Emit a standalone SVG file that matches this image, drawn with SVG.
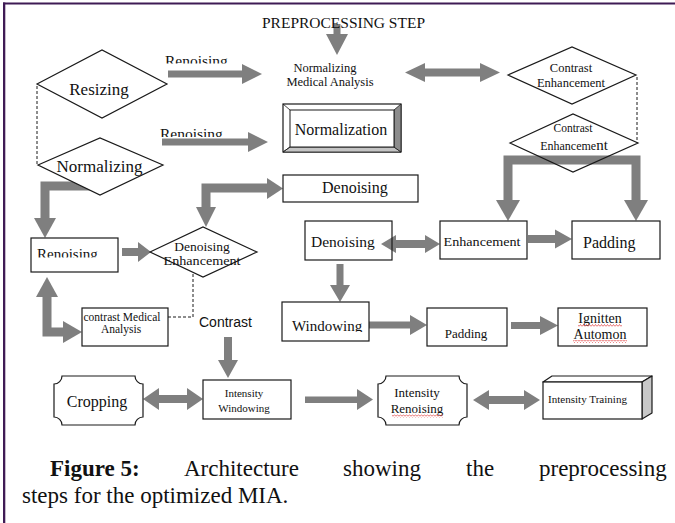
<svg xmlns="http://www.w3.org/2000/svg" width="675" height="523" viewBox="0 0 675 523" font-family="'Liberation Serif', 'Times New Roman', serif">
<style>
.n{fill:#fff;stroke:#1a1a1a;stroke-width:1.2}
.nf{fill:none;stroke:#1a1a1a;stroke-width:1.2}
.a{fill:#7f7f7f}
.al{fill:none;stroke:#7f7f7f;stroke-width:9;stroke-linejoin:miter}
.d{fill:none;stroke:#1a1a1a;stroke-width:1;stroke-dasharray:3 2}
text{font-family:"Liberation Serif","Times New Roman",serif;fill:#111}
.s{font-family:"Liberation Sans",Arial,sans-serif}
.c{font-size:23px}
.m{text-anchor:middle}
</style>
<defs>
<pattern id="wavy" patternUnits="userSpaceOnUse" width="3" height="3">
<path d="M0,2.5 L1.5,0.5 L3,2.5" fill="none" stroke="#e03a3a" stroke-width="0.7"/>
</pattern>
<clipPath id="cr1"><rect x="150" y="40" width="100" height="23.5"/></clipPath>
<clipPath id="cr2"><rect x="150" y="115" width="100" height="22"/></clipPath>
<clipPath id="cr3"><rect x="31" y="238" width="87" height="19.5"/></clipPath>
<clipPath id="cr4"><rect x="282" y="302" width="87" height="30"/></clipPath>
</defs>
<rect x="0" y="0" width="675" height="523" fill="#fff"/>
<rect x="3" y="2.5" width="672" height="2" fill="#3f1b55"/>
<rect x="3" y="2.5" width="2.3" height="520.5" fill="#3f1b55"/>

<g id="connectors">
<polygon class="a" points="333.5,24 340.5,24 340.5,34 348,34 337,55 326,34 333.5,34"/>
<polygon class="a" points="168,70.5 242,70.5 242,64 262,74 242,84 242,77.5 168,77.5"/>
<polygon class="a" points="162,138.5 248,138.5 248,132 268,142 248,152 248,145.5 162,145.5"/>
<polygon class="a" points="405,72.5 425,63 425,68.5 480,68.5 480,63 500,72.5 480,82 480,76.5 425,76.5 425,82"/>
<polyline class="al" points="508,202 508,160 636,160 636,202"/>
<polygon class="a" points="496,200 520,200 508,221"/>
<polygon class="a" points="624,200 648,200 636,221"/>
<polygon class="a" points="528,235 555,235 555,229.5 572,239 555,248.5 555,243 528,243"/>
<polygon class="a" points="381,244 396,235 396,240 425,240 425,235 440,244 425,253 425,248 396,248 396,253"/>
<polygon class="a" points="336.5,264 343.5,264 343.5,285 350,285 340,302 330,285 336.5,285"/>
<polygon class="a" points="369,321.5 410,321.5 410,315 427,325 410,335 410,328.5 369,328.5"/>
<polygon class="a" points="511,322 540,322 540,316 558,325.5 540,335 540,329 511,329"/>
<polyline class="al" points="206,209 206,188 268,188"/>
<polygon class="a" points="267,178 283,188.5 267,199"/>
<polygon class="a" points="196,207 216,207 206,227"/>
<polygon class="a" points="122,248 138,248 138,242 151,252 138,262 138,256 122,256"/>
<polyline class="al" points="92,186 45,186 45,220"/>
<polygon class="a" points="34,218 56,218 45,238"/>
<polyline class="al" points="47,296 47,332 65,332"/>
<polygon class="a" points="36,297 58,297 47,277"/>
<polygon class="a" points="63,321 63,343 82,332"/>
<polygon class="a" points="224,337 232,337 232,360 238,360 228,378 218,360 224,360"/>
<polygon class="a" points="143,399 159,388 159,395 187,395 187,388 203,399 187,410 187,403 159,403 159,410"/>
<polygon class="a" points="305,396.5 357,396.5 357,389 373,399.5 357,410 357,403 305,403"/>
<polygon class="a" points="473,400 489,390 489,396 524,396 524,390 540,400 524,410 524,404 489,404 489,410"/>
<line class="d" x1="37" y1="86" x2="37" y2="165"/>
<line class="d" x1="637" y1="77" x2="637" y2="143"/>
<polyline class="d" points="168,317 193,317 193,272"/>
</g>

<text x="262" y="28" font-size="14" textLength="163" lengthAdjust="spacingAndGlyphs">PREPROCESSING STEP</text>

<g id="n-normalizing-medical">
<text class="m" x="325" y="72" font-size="12.5">Normalizing</text>
<text class="m" x="330" y="86" font-size="12.5">Medical Analysis</text>
</g>

<g id="n-renoising-label1">
<text x="165" y="65.5" font-size="15.5" clip-path="url(#cr1)">Renoising</text>
</g>
<g id="n-renoising-label2">
<text x="160" y="138.5" font-size="15.5" clip-path="url(#cr2)">Renoising</text>
</g>

<g id="n-resizing">
<polygon class="n" points="37,84 102,50 167,84 102,118"/>
<text class="m" x="99" y="95" font-size="17">Resizing</text>
</g>

<g id="n-normalizing">
<polygon class="n" points="38,165 100,138 163,165 100,195"/>
<text class="m" x="99.5" y="172" font-size="17">Normalizing</text>
</g>

<g id="n-normalization">
<rect x="283" y="104" width="118" height="48" fill="#fff" stroke="#1a1a1a" stroke-width="1.2"/>
<polygon points="283,152 290,147 394,147 401,152" fill="#c4c4c4" stroke="#1a1a1a" stroke-width="0.8"/>
<polygon points="401,104 394,110 394,147 401,152" fill="#8c8c8c" stroke="#1a1a1a" stroke-width="0.8"/>
<line x1="283" y1="104" x2="290" y2="110" stroke="#1a1a1a" stroke-width="0.8"/>
<line x1="283" y1="152" x2="290" y2="147" stroke="#1a1a1a" stroke-width="0.8"/>
<rect x="290" y="110" width="104" height="37" fill="#fff" stroke="#1a1a1a" stroke-width="1"/>
<text class="m" x="341" y="135" font-size="16">Normalization</text>
</g>

<g id="n-contrast-enh1">
<polygon class="n" points="508,75 572,47 636,75 572,104"/>
<text class="m" x="571" y="72" font-size="12.5">Contrast</text>
<text class="m" x="571" y="87" font-size="12.5">Enhancement</text>
</g>

<g id="n-contrast-enh2">
<polygon class="nf" points="510,143 573,114 638,143 573,172"/>
<text class="m" x="573" y="132" font-size="11.5">Contrast</text>
<text class="m" x="574" y="150" font-size="12">Enhanceme<tspan font-size="15">nt</tspan></text>
</g>

<g id="n-denoising-top">
<rect class="n" x="283" y="175" width="135" height="27"/>
<text x="322" y="193" font-size="16">Denoising</text>
</g>

<g id="n-renoising">
<rect class="n" x="31" y="238" width="87" height="34"/>
<text x="37" y="259" font-size="15" clip-path="url(#cr3)">Renoising</text>
</g>

<g id="n-denoising-enh">
<polygon class="n" points="150,252 203,227 257,252 203,277"/>
<text class="m" x="202" y="250.5" font-size="13.5">Denoising</text>
<text class="m" x="202" y="265" font-size="13.5" textLength="77" lengthAdjust="spacingAndGlyphs">Enhancement</text>
</g>

<g id="n-contrast-medical">
<rect class="n" x="82" y="308" width="86" height="38"/>
<text class="m" x="122" y="321" font-size="11.5" textLength="77" lengthAdjust="spacingAndGlyphs">contrast Medical</text>
<text class="m" x="121" y="333" font-size="11.5">Analysis</text>
</g>

<g id="n-contrast-label">
<text class="s" x="199" y="327" font-size="14">Contrast</text>
</g>

<g id="n-denoising-mid">
<rect class="nf" x="305" y="221" width="87" height="39"/>
<text x="311" y="247" font-size="15.5">Denoising</text>
</g>

<g id="n-enhancement">
<rect class="n" x="440" y="221" width="87" height="38"/>
<text class="m" x="482" y="246" font-size="13.5" textLength="77" lengthAdjust="spacingAndGlyphs">Enhancement</text>
</g>

<g id="n-padding1">
<rect class="n" x="572" y="221" width="88" height="38"/>
<text x="583" y="248" font-size="16">Padding</text>
</g>

<g id="n-windowing">
<rect class="n" x="282" y="302" width="87" height="39"/>
<text x="292" y="330.5" font-size="15" clip-path="url(#cr4)">Windowing</text>
</g>

<g id="n-padding2">
<rect class="n" x="427" y="308" width="80" height="38"/>
<text class="m" x="466" y="338" font-size="13">Padding</text>
</g>

<g id="n-ignitten">
<rect class="n" x="558" y="308" width="89" height="38"/>
<text class="m" x="600" y="323" font-size="14">Ignitten</text>
<text class="m" x="600" y="339" font-size="14">Automon</text>
<rect x="578" y="324" width="44" height="3" fill="url(#wavy)"/>
<rect x="573" y="340" width="54" height="3" fill="url(#wavy)"/>
</g>

<g id="n-cropping">
<path class="n" d="M62,376 L135,376 A8,8 0 0 0 143,384 L143,417 A8,8 0 0 0 135,425 L62,425 A8,8 0 0 0 54,417 L54,384 A8,8 0 0 0 62,376 Z"/>
<text class="m" x="97" y="407" font-size="16">Cropping</text>
</g>

<g id="n-intensity-windowing">
<rect class="n" x="203" y="380" width="88" height="39"/>
<text class="m" x="244" y="397" font-size="11">Intensity</text>
<text class="m" x="244" y="412" font-size="11">Windowing</text>
</g>

<g id="n-intensity-renoising">
<path class="n" d="M386,376 L459,376 A8,8 0 0 0 467,384 L467,417 A8,8 0 0 0 459,425 L386,425 A8,8 0 0 0 378,417 L378,384 A8,8 0 0 0 386,376 Z"/>
<text class="m" x="417" y="397" font-size="13">Intensity</text>
<text class="m" x="417" y="413" font-size="13">Renoising</text>
<rect x="392" y="414.5" width="51" height="3" fill="url(#wavy)"/>
</g>

<g id="n-intensity-training">
<polygon points="543,382 552,376 652,376 642,382" fill="#fff" stroke="#1a1a1a" stroke-width="1.2" stroke-linejoin="round"/>
<polygon points="642,382 652,376 652,413 642,419" fill="#c8c8c8" stroke="#1a1a1a" stroke-width="1.2" stroke-linejoin="round"/>
<rect class="n" x="543" y="382" width="99" height="37"/>
<text x="548" y="403" font-size="11" textLength="79" lengthAdjust="spacingAndGlyphs">Intensity Training</text>
</g>

<text class="c" y="476"><tspan x="50" font-weight="bold">Figure 5:</tspan><tspan x="184">Architecture</tspan><tspan x="343">showing</tspan><tspan x="466">the</tspan><tspan x="539">preprocessing</tspan></text>
<text class="c" x="22" y="503">steps for the optimized MIA.</text>
</svg>
